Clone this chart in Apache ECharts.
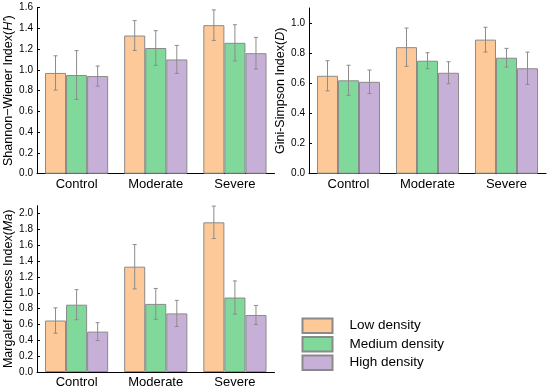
<!DOCTYPE html>
<html>
<head>
<meta charset="utf-8">
<script src="https://cdn.jsdelivr.net/npm/echarts@6/dist/echarts.min.js"></script>
<style>html,body{margin:0;padding:0;background:#fff}#c{width:550px;height:392px}</style>
</head>
<body>
<div id="c"></div>
<script>
const categories = ['Control', 'Moderate', 'Severe'];
const seriesNames = ['Low density', 'Medium density', 'High density'];

const shannonLow = [0.97, 1.33, 1.43];
const shannonMed = [0.95, 1.21, 1.26];
const shannonHigh = [0.94, 1.10, 1.16];
const shannonLowErr = [0.165, 0.144, 0.147];
const shannonMedErr = [0.235, 0.167, 0.174];
const shannonHighErr = [0.097, 0.135, 0.152];

const giniLow = [0.65, 0.84, 0.89];
const giniMed = [0.62, 0.75, 0.77];
const giniHigh = [0.61, 0.67, 0.70];
const giniLowErr = [0.10, 0.127, 0.082];
const giniMedErr = [0.10, 0.053, 0.062];
const giniHighErr = [0.078, 0.073, 0.107];

const margLow = [0.65, 1.33, 1.89];
const margMed = [0.85, 0.86, 0.94];
const margHigh = [0.51, 0.74, 0.72];
const margLowErr = [0.16, 0.28, 0.205];
const margMedErr = [0.19, 0.195, 0.21];
const margHighErr = [0.113, 0.165, 0.12];

const yTicks1 = [0, 0.2, 0.4, 0.6, 0.8, 1.0, 1.2, 1.4, 1.6];
const yTicks2 = [0, 0.2, 0.4, 0.6, 0.8, 1.0];
const yTicks3 = [0, 0.2, 0.4, 0.6, 0.8, 1.0, 1.2, 1.4, 1.6, 1.8, 2.0];

const colors = ['#FEC998', '#80D89B', '#C6B0D8'];
const FONT = 'Arial, "Liberation Sans", sans-serif';
const BAR_FRAC = 0.266;

const panels = [
  {vals: [shannonLow, shannonMed, shannonHigh], errs: [shannonLowErr, shannonMedErr, shannonHighErr],
   ticks: yTicks1, max: 1.6, name: "Shannon\u2212Wiener Index({i|H'})",
   grid: {left: 37, top: 7.5, right: 275.5, bottom: 218.3}},
  {vals: [giniLow, giniMed, giniHigh], errs: [giniLowErr, giniMedErr, giniHighErr],
   ticks: yTicks2, max: 1.1, name: 'Gini-Simpson Index({i|D})',
   grid: {left: 309, top: 8, right: 4, bottom: 218.3}},
  {vals: [margLow, margMed, margHigh], errs: [margLowErr, margMedErr, margHighErr],
   ticks: yTicks3, max: 2.1, name: 'Margalef richness Index({i|Ma})',
   grid: {left: 37, top: 205.7, right: 275.5, bottom: 20}}
];

const grids = [], xAxes = [], yAxes = [], series = [];
panels.forEach((p, gi) => {
  grids.push(Object.assign({}, p.grid));
  xAxes.push({
    type: 'category', gridIndex: gi, data: categories,
    axisLine: {lineStyle: {color: '#000', width: 1}},
    axisTick: {inside: true, length: 3, lineStyle: {color: '#000'}},
    axisLabel: {color: '#000', fontSize: 13, fontFamily: FONT, margin: 4},
    splitLine: {show: false}
  });
  yAxes.push({
    type: 'value', gridIndex: gi, min: 0, max: p.max, interval: 0.2,
    axisLine: {show: true, lineStyle: {color: '#000', width: 1}},
    axisTick: {show: true, inside: true, length: 3, lineStyle: {color: '#000'}},
    axisLabel: {color: '#000', fontSize: 10, fontFamily: FONT, margin: 4,
      showMaxLabel: p.ticks[p.ticks.length - 1] === p.max,
      formatter: v => p.ticks.some(t => Math.abs(t - v) < 1e-6) ? v.toFixed(1) : ''},
    splitLine: {show: false},
    name: p.name, nameLocation: 'middle', nameGap: 15,
    nameTextStyle: {color: '#000', fontSize: 12.5, fontFamily: FONT,
      rich: {i: {fontStyle: 'italic', fontSize: 12.5, fontFamily: FONT, color: '#000'}}}
  });
});
// secondary axes for center ticks
panels.forEach((p, gi) => {
  xAxes.push({
    type: 'category', gridIndex: gi, data: categories, position: 'bottom',
    axisLine: {show: false},
    axisTick: {inside: true, length: 3, alignWithLabel: true, lineStyle: {color: '#000'}},
    axisLabel: {show: false}, splitLine: {show: false}
  });
});

panels.forEach((p, gi) => {
  p.vals.forEach((arr, si) => {
    series.push({
      type: 'bar', name: seriesNames[si], xAxisIndex: gi, yAxisIndex: gi,
      data: arr, barWidth: (BAR_FRAC * 100) + '%', barGap: '0%',
      itemStyle: {color: colors[si], borderColor: '#8a8a8a', borderWidth: 1},
      emphasis: {disabled: true}, z: 2
    });
  });
  p.vals.forEach((arr, si) => {
    const errs = p.errs[si];
    series.push({
      type: 'custom', name: 'err' + gi + '_' + si, xAxisIndex: gi, yAxisIndex: gi,
      data: categories.map((c, i) => [i, arr[i], errs[i]]),
      z: 5, silent: true,
      renderItem: function (params, api) {
        const ci = api.value(0), v = api.value(1), e = api.value(2);
        const bandW = api.size([1, 0])[0];
        const bw = bandW * BAR_FRAC;
        const c = api.coord([ci, v]);
        const x = c[0] + (si - 1) * bw;
        const yt = api.coord([ci, v + e])[1];
        const yb = api.coord([ci, v - e])[1];
        const st = {stroke: '#8c8c8c', lineWidth: 1};
        const cap = 2;
        return {type: 'group', children: [
          {type: 'line', shape: {x1: x, y1: yt, x2: x, y2: yb}, style: st},
          {type: 'line', shape: {x1: x - cap, y1: yt, x2: x + cap, y2: yt}, style: st},
          {type: 'line', shape: {x1: x - cap, y1: yb, x2: x + cap, y2: yb}, style: st}
        ]};
      }
    });
  });
});

const chart = echarts.init(document.getElementById('c'), null, {renderer: 'canvas'});
chart.setOption({
  animation: false,
  backgroundColor: '#fff',
  grid: grids, xAxis: xAxes, yAxis: yAxes, series: series,
  legend: {
    data: seriesNames, orient: 'vertical', left: 296.5, top: 312.5, padding: 5,
    itemWidth: 30, itemHeight: 14.5, itemGap: 2, icon: 'rect',
    selectedMode: false,
    textStyle: {color: '#000', fontSize: 13.5, fontFamily: FONT, lineHeight: 14.5, padding: [0, 0, 0, 12]}
  }
});
</script>
</body>
</html>
